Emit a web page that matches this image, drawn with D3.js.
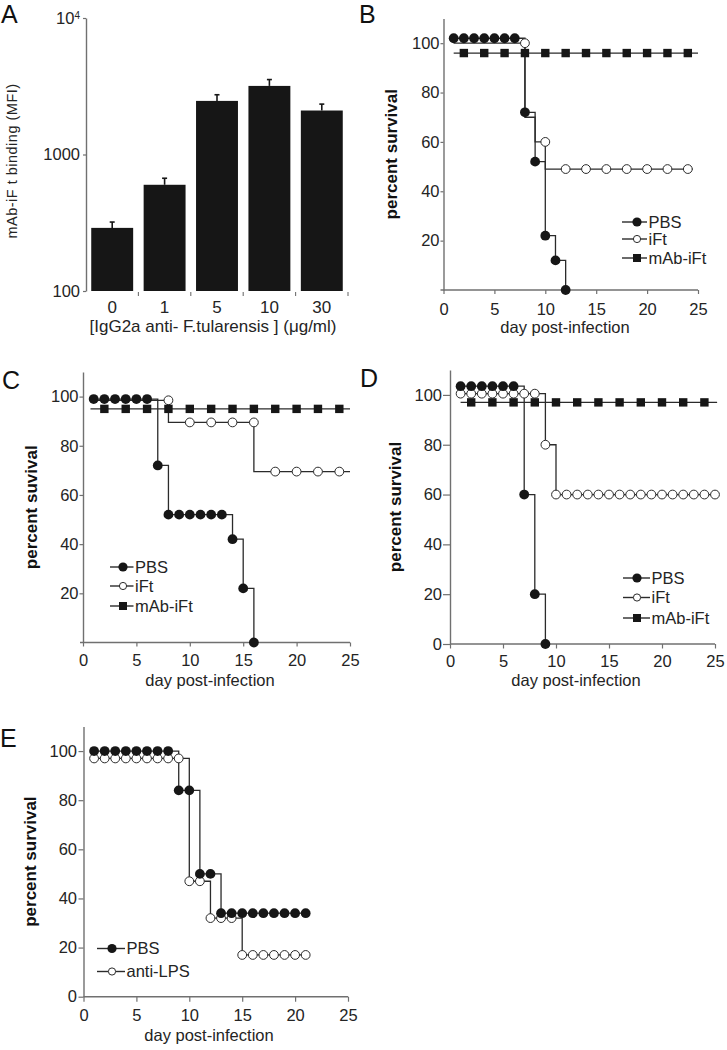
<!DOCTYPE html>
<html><head><meta charset="utf-8">
<script src="https://cdn.jsdelivr.net/npm/d3@7"></script>
<style>
body{margin:0;background:#fff;}
svg{display:block;font-family:"Liberation Sans",Arial,Helvetica,sans-serif;}
</style></head><body>
<svg id="fig" width="727" height="1050"></svg>
<script>
// ---------------- DATA ----------------
// Panel A : bar chart (log scale)
const A_categories = ["0", "1", "5", "10", "30"];
const A_values     = [290, 600, 2470, 3180, 2100];
const A_errorTop   = [320, 670, 2740, 3540, 2340];
const A_yTicks     = [100, 1000, 10000];

const dayTicks  = [0, 5, 10, 15, 20, 25];
const survTicks = [20, 40, 60, 80, 100];
const survTicks0 = [0, 20, 40, 60, 80, 100];

// Panel B
const B_PBS      = [[1,102],[2,102],[3,102],[4,102],[5,102],[6,102],[7,102],[8,72],[9,52],[10,22],[11,12],[12,0]];
const B_iFt_line = [[1,100],[8,70],[9,60],[10,49],[24.5,49]];
const B_iFt      = [[8,100],[10,60],[12,49],[14,49],[16,49],[18,49],[20,49],[22,49],[24,49]];
const B_mAb_line = [[1,96],[25,96]];
const B_mAb      = [[2,96],[4,96],[6,96],[8,96],[10,96],[12,96],[14,96],[16,96],[18,96],[20,96],[22,96],[24,96]];

// Panel C
const C_PBS      = [[1,99],[2,99],[3,99],[4,99],[5,99],[6,99],[7,72],[8,52],[9,52],[10,52],[11,52],[12,52],[13,52],[14,42],[15,22],[16,0]];
const C_iFt_line = [[0.7,98.5],[8,89.5],[16,69.5],[25,69.5]];
const C_iFt      = [[8,98.5],[10,89.5],[12,89.5],[14,89.5],[16,89.5],[18,69.5],[20,69.5],[22,69.5],[24,69.5]];
const C_mAb_line = [[0.7,95],[25,95]];
const C_mAb      = [[2,95],[4,95],[6,95],[8,95],[10,95],[12,95],[14,95],[16,95],[18,95],[20,95],[22,95],[24,95]];

// Panel D
const D_PBS      = [[1,103.5],[2,103.5],[3,103.5],[4,103.5],[5,103.5],[6,103.5],[7,60],[8,20],[9,0]];
const D_iFt      = [[1,100.5],[2,100.5],[3,100.5],[4,100.5],[5,100.5],[6,100.5],[7,100.5],[8,100.5],[9,80],
                    [10,60],[11,60],[12,60],[13,60],[14,60],[15,60],[16,60],[17,60],[18,60],[19,60],[20,60],[21,60],[22,60],[23,60],[24,60],[25,60]];
const D_mAb_line = [[1,97],[25.2,97]];
const D_mAb      = [[2,97],[4,97],[6,97],[8,97],[10,97],[12,97],[14,97],[16,97],[18,97],[20,97],[22,97],[24,97]];

// Panel E
const E_PBS      = [[1,100],[2,100],[3,100],[4,100],[5,100],[6,100],[7,100],[8,100],[9,84],[10,84],[11,50],[12,50],
                    [13,34],[14,34],[15,34],[16,34],[17,34],[18,34],[19,34],[20,34],[21,34]];
const E_LPS      = [[1,97],[2,97],[3,97],[4,97],[5,97],[6,97],[7,97],[8,97],[9,97],[10,47],[11,47],[12,32],[13,32],[14,32],
                    [15,17],[16,17],[17,17],[18,17],[19,17],[20,17],[21,17]];

// ---------------- DRAWING ----------------
const svg = d3.select("#fig");
const INK = "#161616";
const LINE = "#2b2b2b";
const AXC = "#707070";
const TXT = "#242424";
const FS = 16.5;

function styleAxis(sel, fs) {
  sel.select(".domain").attr("stroke", AXC).attr("stroke-width", 1.4);
  sel.selectAll(".tick line").attr("stroke", AXC).attr("stroke-width", 1.2);
  sel.selectAll(".tick text").attr("fill", TXT).style("font-size", (fs || FS) + "px")
     .style("font-family", '"Liberation Sans", Arial, sans-serif');
}

function panelLabel(t, x, y) {
  svg.append("text").attr("x", x).attr("y", y).text(t)
    .style("font-size", "25px").attr("fill", "#111");
}

function marker(g, type, cx, cy, big) {
  if (type === "fc") {
    g.append("circle").attr("cx", cx).attr("cy", cy).attr("r", big ? 4.9 : 4.6).attr("fill", INK);
  } else if (type === "oc") {
    g.append("circle").attr("cx", cx).attr("cy", cy).attr("r", big ? 4.4 : 3.6)
      .attr("fill", "#fff").attr("stroke", LINE).attr("stroke-width", 1);
  } else {
    const s = big ? 8.4 : 8;
    g.append("rect").attr("x", cx - s/2).attr("y", cy - s/2).attr("width", s).attr("height", s).attr("fill", INK);
  }
}

function survivalPanel(p) {
  const g = svg.append("g");
  const x = d3.scaleLinear().domain([0, 25]).range([p.x0, p.x1]);
  const y = d3.scaleLinear().domain([0, 110]).range([p.y0, p.yTop]);

  // axes
  const gx = g.append("g").attr("transform", `translate(0,${p.y0})`)
    .call(d3.axisBottom(x).tickValues(dayTicks).tickSize(p.xTick).tickSizeOuter(0));
  styleAxis(gx);
  gx.selectAll(".tick text").attr("y", p.xLabY).attr("dy", 0);
  gx.select(".domain").attr("d", `M${p.x0 - p.xExt},0H${p.x1}`);

  const gy = g.append("g").attr("transform", `translate(${p.x0},0)`)
    .call(d3.axisLeft(y).tickValues(p.yTicks).tickSize(p.yTick).tickPadding(p.yPad).tickSizeOuter(0));
  styleAxis(gy);

  // titles
  g.append("text").attr("x", p.xTitleX).attr("y", p.y0 + p.xTitleY).attr("text-anchor", "middle")
    .attr("fill", TXT).style("font-size", FS + "px").text("day post-infection");
  g.append("text").attr("transform", `translate(${p.yTitleX},${(p.y0 + p.yTop) / 2}) rotate(-90)`)
    .attr("text-anchor", "middle").attr("dy", "0.35em").attr("fill", "#111")
    .style("font-size", "17px").style("font-weight", "bold").text(p.yTitle);

  const line = d3.line().x(d => x(d[0])).y(d => y(d[1])).curve(d3.curveStepAfter);
  const plot = g.append("g");
  p.series.forEach(s => {
    plot.append("path").attr("d", line(s.line)).attr("fill", "none")
      .attr("stroke", LINE).attr("stroke-width", 1.3);
  });
  p.series.forEach(s => {
    s.marks.forEach(d => marker(plot, s.type, x(d[0]), y(d[1]), true));
  });

  // legend
  const lg = g.append("g");
  p.series.slice().sort((a, b) => a.order - b.order).forEach((s, i) => {
    const ly = p.legY[i];
    lg.append("line").attr("x1", p.legX).attr("x2", p.legX + p.legW).attr("y1", ly).attr("y2", ly)
      .attr("stroke", LINE).attr("stroke-width", 1.4);
    marker(lg, s.type, p.legX + p.legM, ly, false);
    lg.append("text").attr("x", p.legX + p.legW + 1.5).attr("y", ly).attr("dy", "0.36em")
      .attr("fill", TXT).style("font-size", FS + "px").text(s.name);
  });
}

// ---- Panel A ----
(function () {
  const g = svg.append("g");
  const x = d3.scaleBand().domain(A_categories).range([86, 348]).paddingInner(0.2).paddingOuter(0.1);
  const y = d3.scaleLog().domain([100, 10000]).range([291, 18]);

  const gy = g.append("g").attr("transform", "translate(86,0)")
    .call(d3.axisLeft(y).tickValues(A_yTicks).tickSize(3).tickPadding(3).tickSizeOuter(0)
      .tickFormat(d => d === 10000 ? "" : d3.format("d")(d)));
  styleAxis(gy);
  gy.selectAll(".tick").filter(d => d === 10000).select("text")
    .call(t => { t.append("tspan").text("10"); t.append("tspan").attr("dy", "-0.45em").style("font-size", "10px").text("4"); });

  // bars
  g.selectAll("rect.bar").data(A_categories).join("rect").attr("class", "bar")
    .attr("x", d => x(d)).attr("width", x.bandwidth())
    .attr("y", (d, i) => y(A_values[i])).attr("height", (d, i) => y(100) - y(A_values[i]))
    .attr("fill", "#161616");
  // error bars
  A_categories.forEach((c, i) => {
    const cx = x(c) + x.bandwidth() / 2;
    g.append("line").attr("x1", cx).attr("x2", cx).attr("y1", y(A_values[i])).attr("y2", y(A_errorTop[i]))
      .attr("stroke", "#161616").attr("stroke-width", 1.6);
    g.append("line").attr("x1", cx - 2.5).attr("x2", cx + 2.5).attr("y1", y(A_errorTop[i])).attr("y2", y(A_errorTop[i]))
      .attr("stroke", "#161616").attr("stroke-width", 1.6);
  });
  // x ticks at category boundaries
  const gap = (x.step() - x.bandwidth()) / 2;
  A_categories.forEach(c => {
    const bx = x(c) + x.bandwidth() + gap;
    g.append("line").attr("x1", bx).attr("x2", bx).attr("y1", 292).attr("y2", 296)
      .attr("stroke", AXC).attr("stroke-width", 1.1);
  });
  A_categories.forEach(c => {
    g.append("text").attr("x", x(c) + x.bandwidth() / 2).attr("y", 313).attr("text-anchor", "middle")
      .attr("fill", TXT).style("font-size", "17px").text(c);
  });
  g.append("text").attr("x", 213).attr("y", 332).attr("text-anchor", "middle")
    .attr("fill", TXT).style("font-size", "17px").text("[IgG2a anti- F.tularensis ] (\u03BCg/ml)");
  g.append("text").attr("transform", "translate(12,161) rotate(-90)").attr("text-anchor", "middle")
    .attr("dy", "0.35em").attr("fill", TXT).style("font-size", "14.5px").style("letter-spacing", "0.5px")
    .text("mAb-iF t binding (MFI)");
})();

// ---- Panels B-E ----
survivalPanel({
  x0: 443.5, x1: 698, y0: 290, yTop: 18.5, xTick: 4, xLabY: 25, xExt: 3,
  yTicks: survTicks, yTick: 3, yPad: 1, xTitleX: 565, xTitleY: 43, yTitleX: 391, yTitle: "percent survival",
  legX: 622, legW: 25, legM: 15, legY: [222, 239, 258],
  series: [
    { name: "iFt", type: "oc", line: B_iFt_line, marks: B_iFt, order: 1 },
    { name: "mAb-iFt", type: "sq", line: B_mAb_line, marks: B_mAb, order: 2 },
    { name: "PBS", type: "fc", line: B_PBS, marks: B_PBS, order: 0 }
  ]
});

survivalPanel({
  x0: 83, x1: 350, y0: 642.5, yTop: 372, xTick: 4, xLabY: 23.5, xExt: 3,
  yTicks: survTicks, yTick: 3.5, yPad: 1, xTitleX: 210, xTitleY: 43.5, yTitleX: 31, yTitle: "percent suvival",
  legX: 110, legW: 23.5, legM: 13, legY: [567, 586, 606],
  series: [
    { name: "iFt", type: "oc", line: C_iFt_line, marks: C_iFt, order: 1 },
    { name: "mAb-iFt", type: "sq", line: C_mAb_line, marks: C_mAb, order: 2 },
    { name: "PBS", type: "fc", line: C_PBS, marks: C_PBS, order: 0 }
  ]
});

survivalPanel({
  x0: 450, x1: 715, y0: 644, yTop: 370, xTick: 4.5, xLabY: 23, xExt: 0,
  yTicks: survTicks0, yTick: 7, yPad: 1, xTitleX: 576, xTitleY: 42, yTitleX: 395, yTitle: "percent survival",
  legX: 623, legW: 27, legM: 14, legY: [578, 597.5, 618],
  series: [
    { name: "iFt", type: "oc", line: D_iFt, marks: D_iFt, order: 1 },
    { name: "mAb-iFt", type: "sq", line: D_mAb_line, marks: D_mAb, order: 2 },
    { name: "PBS", type: "fc", line: D_PBS, marks: D_PBS, order: 0 }
  ]
});

survivalPanel({
  x0: 83.5, x1: 348, y0: 996.7, yTop: 726.5, xTick: 5, xLabY: 24, xExt: 0,
  yTicks: survTicks0, yTick: 5, yPad: 1.5, xTitleX: 209, xTitleY: 44, yTitleX: 30, yTitle: "percent survival",
  legX: 97, legW: 28, legM: 15, legY: [948.5, 971.5],
  series: [
    { name: "anti-LPS", type: "oc", line: E_LPS, marks: E_LPS, order: 1 },
    { name: "PBS", type: "fc", line: E_PBS, marks: E_PBS, order: 0 }
  ]
});

panelLabel("A", 1, 23);
panelLabel("B", 359, 23);
panelLabel("C", 2, 389);
panelLabel("D", 360, 387);
panelLabel("E", 0, 747);
</script>
</body></html>
